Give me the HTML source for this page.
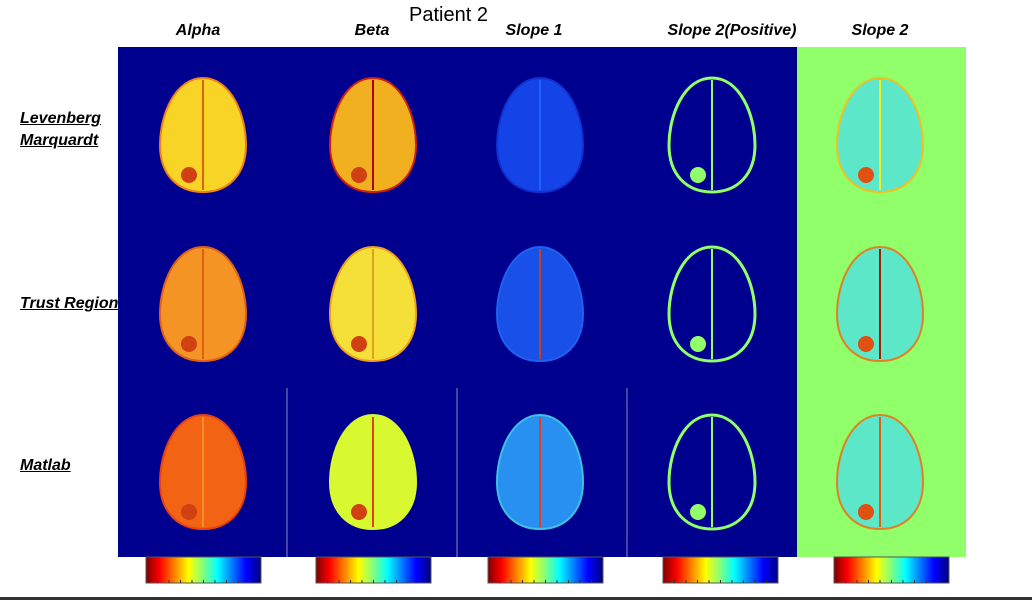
<!DOCTYPE html>
<html><head><meta charset="utf-8"><style>
html,body{margin:0;padding:0;background:#fff;}
body{width:1032px;height:600px;overflow:hidden;position:relative;font-family:"Liberation Sans",sans-serif;}
.h{position:absolute;font-weight:bold;font-style:italic;font-size:16px;color:#000;white-space:nowrap;transform:translateX(-50%);}
.r{position:absolute;font-weight:bold;font-style:italic;font-size:16px;color:#000;text-decoration:underline;line-height:22px;white-space:nowrap;}
</style></head><body>
<div style="position:absolute;left:409px;top:4px;font-size:20px;">Patient 2</div>
<div class="h" style="left:198px;top:22px;">Alpha</div>
<div class="h" style="left:372px;top:22px;">Beta</div>
<div class="h" style="left:534px;top:22px;">Slope 1</div>
<div class="h" style="left:732px;top:22px;">Slope 2(Positive)</div>
<div class="h" style="left:880px;top:22px;">Slope 2</div>
<div class="r" style="left:20px;top:108px;">Levenberg<br>Marquardt</div>
<div class="r" style="left:20px;top:293px;">Trust Region</div>
<div class="r" style="left:20px;top:455px;">Matlab</div>
<svg id="fig" width="1032" height="600" style="position:absolute;left:0;top:0;">
<defs>
<linearGradient id="jet" x1="0" x2="1" y1="0" y2="0">
<stop offset="0" stop-color="#800000"/><stop offset="0.12" stop-color="#ff0000"/><stop offset="0.37" stop-color="#ffff00"/><stop offset="0.5" stop-color="#80ff80"/><stop offset="0.62" stop-color="#00ffff"/><stop offset="0.87" stop-color="#0000ff"/><stop offset="1" stop-color="#000080"/>
</linearGradient>
</defs>
<rect x="118" y="47" width="679" height="510" fill="#00008f"/>
<rect x="797" y="47" width="169" height="510" fill="#90ff6a"/>
<line x1="287" y1="388" x2="287" y2="557" stroke="#8888bb" stroke-width="1"/>
<line x1="457" y1="388" x2="457" y2="557" stroke="#8888bb" stroke-width="1"/>
<line x1="627" y1="388" x2="627" y2="557" stroke="#8888bb" stroke-width="1"/>
<rect x="0" y="597" width="1032" height="3" fill="#333"/>
<g id="brains"></g>
<g id="bars"></g>
</svg>
<script>
const colCenters=[203,373,540,712,880];
const rowCenters=[135,304,472];
const fills=[["#f8d426","#f0b020","#1444e8","none","#5ce8c8"],["#f39424","#f4e038","#1850e8","none","#5ce8c8"],["#f26414","#d8f830","#2890f0","none","#5ce8c8"]];
const rims=[["#f08018","#d02010","#1030d0","#90ff6a","#f0c020"],["#e06018","#f0a020","#2060f0","#90ff6a","#e08020"],["#e84010","#d8f830","#40c0e0","#90ff6a","#e08020"]];
const mids=[["#e06010","#b00000","#2060ff","#90ff6a","#f0f020"],["#e06010","#e0a020","#c04020","#90ff6a","#a02000"],["#f09020","#e04020","#e04020","#90ff6a","#e06010"]];
const barX=[146,316,488,663,834];
const ns="http://www.w3.org/2000/svg";
const g=document.getElementById('brains');
function brainPath(cx,cy){return `M${cx},${cy-57} C${cx+28},${cy-57} ${cx+43},${cy-20} ${cx+43},${cy+10} C${cx+43},${cy+40} ${cx+25},${cy+57} ${cx},${cy+57} C${cx-25},${cy+57} ${cx-43},${cy+40} ${cx-43},${cy+10} C${cx-43},${cy-20} ${cx-28},${cy-57} ${cx},${cy-57} Z`;}
rowCenters.forEach((cy,r)=>{colCenters.forEach((cx,c)=>{
  const p=document.createElementNS(ns,'path');
  
  
  p.setAttribute('d',brainPath(cx,cy));
  p.setAttribute('fill',fills[r][c]==='none'?'none':fills[r][c]);
  p.setAttribute('stroke',rims[r][c]);
  p.setAttribute('stroke-width',c===3?3:2);
  g.appendChild(p);
  const l=document.createElementNS(ns,'line');
  
  
  l.setAttribute('x1',cx);l.setAttribute('x2',cx);
  l.setAttribute('y1',cy-55);l.setAttribute('y2',cy+55);
  l.setAttribute('stroke',mids[r][c]);l.setAttribute('stroke-width',2);
  g.appendChild(l);
  if(c!==2){
  const t=document.createElementNS(ns,'circle');
  
  
  t.setAttribute('cx',cx-14);t.setAttribute('cy',cy+40);t.setAttribute('r',8);
  t.setAttribute('fill',c===3?'#90ff6a':(c===4?'#e05010':'#d04010'));
  g.appendChild(t);}
});});
const b=document.getElementById('bars');
barX.forEach((x,i)=>{
  const rc=document.createElementNS(ns,'rect');
  
  
  rc.setAttribute('x',x);rc.setAttribute('y',557);rc.setAttribute('width',115);rc.setAttribute('height',26);
  rc.setAttribute('fill','url(#jet)');rc.setAttribute('stroke','#555');rc.setAttribute('stroke-width',1);
  b.appendChild(rc);
  for(let k=1;k<10;k++){
    const tk=document.createElementNS(ns,'line');
    
    
    tk.setAttribute('x1',x+k*11.5);tk.setAttribute('x2',x+k*11.5);
    tk.setAttribute('y1',580);tk.setAttribute('y2',583);
    tk.setAttribute('stroke','#333');tk.setAttribute('stroke-width',1);
    b.appendChild(tk);
  }
});
</script>
</body></html>
